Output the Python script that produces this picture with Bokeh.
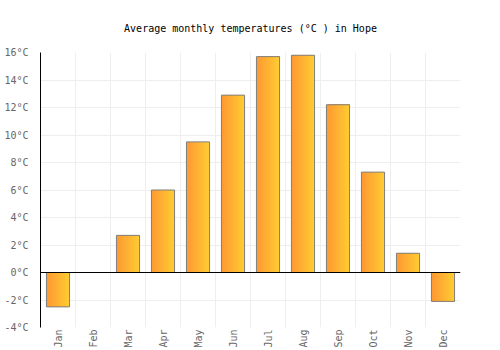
import math
from bokeh.plotting import figure
from bokeh.models import FixedTicker, Span, Range1d
from bokeh.embed import file_html
from bokeh.resources import INLINE

months = ["Jan", "Feb", "Mar", "Apr", "May", "Jun", "Jul", "Aug", "Sep", "Oct", "Nov", "Dec"]
temps = [-2.5, 0.0, 2.7, 6.0, 9.5, 12.9, 15.7, 15.8, 12.2, 7.3, 1.4, -2.1]
y_ticks = [-4, -2, 0, 2, 4, 6, 8, 10, 12, 14, 16]
y_labels = ["-4°C", "-2°C", "0°C", "2°C", "4°C", "6°C", "8°C", "10°C", "12°C", "14°C", "16°C"]

FONT = "DejaVu Sans Mono"
xs = list(range(len(months)))

p = figure(width=500, height=350, output_backend="svg", toolbar_location=None,
           x_range=Range1d(-0.5, 11.5), y_range=Range1d(-4, 16),
           title="Average monthly temperatures (°C ) in Hope",
           min_border_left=40, min_border_right=40, min_border_top=52, min_border_bottom=10)

p.title.align = "center"
p.title.text_font = FONT
p.title.text_font_size = "10px"
p.title.text_font_style = "normal"
p.title.text_color = "#000000"
p.title.standoff = 37
p.outline_line_color = None

# gradient bars built from strips, each extending to the bar's right edge
bar_w = 0.66
n = 24
c0 = (0xFF, 0x99, 0x33)
c1 = (0xFF, 0xCC, 0x33)
for i in range(n):
    t = i / (n - 1)
    col = "#%02x%02x%02x" % tuple(int(round(a + (b - a) * t)) for a, b in zip(c0, c1))
    p.quad(left=[x - bar_w / 2 + i * bar_w / n for x in xs],
           right=[x + bar_w / 2 for x in xs],
           top=temps, bottom=0, fill_color=col, line_color=None)
p.vbar(x=xs, top=temps, bottom=0, width=bar_w, fill_color=None,
       line_color="#7f7f7f", line_width=1)

p.add_layout(Span(location=0, dimension="width", line_color="#000000", line_width=1))

# axes
p.yaxis.ticker = FixedTicker(ticks=y_ticks)
p.yaxis.major_label_overrides = {t: l for t, l in zip(y_ticks, y_labels)}
p.yaxis.axis_line_color = "#000000"
p.yaxis.major_tick_line_color = None
p.yaxis.minor_tick_line_color = None
p.yaxis.major_label_text_font = FONT
p.yaxis.major_label_text_font_size = "10px"
p.yaxis.major_label_text_color = "#666666"
p.yaxis.major_label_standoff = 6

p.xaxis.ticker = FixedTicker(ticks=xs)
p.xaxis.major_label_overrides = {i: m for i, m in enumerate(months)}
p.xaxis.axis_line_color = None
p.xaxis.major_tick_line_color = None
p.xaxis.minor_tick_line_color = None
p.xaxis.major_tick_out = 0
p.xaxis.major_label_orientation = math.pi / 2
p.xaxis.major_label_text_font = FONT
p.xaxis.major_label_text_font_size = "10px"
p.xaxis.major_label_text_color = "#666666"
p.xaxis.major_label_standoff = 2

p.xgrid.ticker = FixedTicker(ticks=[x + 0.5 for x in range(-1, 12)])
p.xgrid.grid_line_color = "#eeeeee"
p.ygrid.grid_line_color = "#eeeeee"

open("out.html", "w").write(file_html(p, INLINE))
